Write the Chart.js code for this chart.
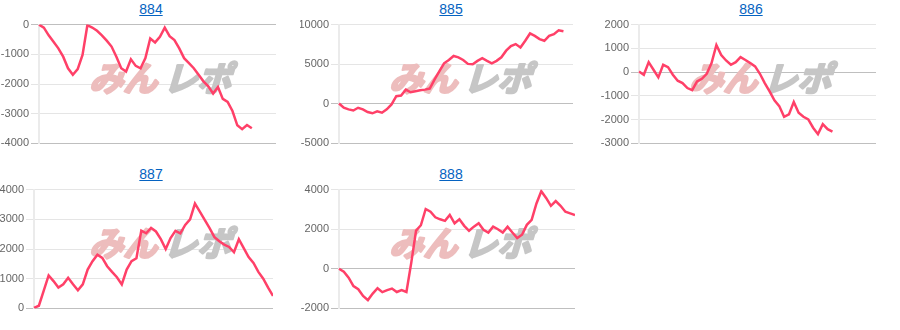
<!DOCTYPE html>
<html lang="ja">
<head>
    <meta charset="UTF-8">
    <title>グラフ</title>
    <style>
        body {
            margin: 0;
            background: #fff;
            font-family: Arial, "Liberation Sans", sans-serif;
        }
        .cell {
            position: absolute;
            width: 300px;
            height: 165px;
        }
        .cell a {
            position: absolute;
            left: 0;
            top: 1px;
            width: 302px;
            text-align: center;
            font-size: 14px;
            color: #0563c1;
            text-decoration: underline;
        }
        .cell canvas {
            position: absolute;
            left: 0;
            top: 16px;
        }
    </style>
</head>
<body>
    <div class="cell" style="left:0;top:0"><a href="#">884</a><canvas id="c884" width="276" height="136"></canvas></div>
    <div class="cell" style="left:300px;top:0"><a href="#">885</a><canvas id="c885" width="273" height="136"></canvas></div>
    <div class="cell" style="left:600px;top:0"><a href="#">886</a><canvas id="c886" width="276" height="136"></canvas></div>
    <div class="cell" style="left:0;top:165px"><a href="#">887</a><canvas id="c887" width="273" height="136"></canvas></div>
    <div class="cell" style="left:300px;top:165px"><a href="#">888</a><canvas id="c888" width="275" height="136"></canvas></div>

    <script src="https://cdn.jsdelivr.net/npm/chart.js"></script>
    <script>
        // x positions (hidden axis), same for every machine
        const xLabels = Array.from({ length: 50 }, (_, i) => i + 1);

        // running difference per machine
        const data884 = [0, -100, -360, -580, -800, -1080, -1470, -1690, -1500, -1020,
            -20, -100, -210, -360, -540, -740, -1080, -1470, -1580, -1170,
            -1390, -1470, -1130, -470, -600, -410, -100, -390, -520, -800,
            -1130, -1300, -1470, -1690, -1910, -2080, -2320, -2100, -2500, -2600,
            -2910, -3390, -3520, -3380, -3490];
        const data885 = [40, -500, -700, -850, -500, -700, -1040, -1200, -950, -1120,
            -700, -80, 960, 1040, 1790, 1460, 1580, 1710, 1790, 1920,
            3040, 4080, 5120, 5540, 6040, 5870, 5540, 5040, 5000, 5420,
            5750, 5420, 5120, 5420, 5870, 6710, 7290, 7540, 7120, 7960,
            8880, 8580, 8170, 7960, 8580, 8790, 9290, 9170];
        const data886 = [30, -110, 420, 100, -220, 310, 210, -110, -360, -460,
            -670, -760, -390, -280, -70, 380, 1140, 720, 490, 310,
            420, 630, 510, 380, 240, -70, -460, -810, -1190, -1430,
            -1880, -1780, -1260, -1710, -1880, -1990, -2340, -2610, -2190, -2400,
            -2500];
        const data887 = [20, 90, 600, 1110, 920, 700, 810, 1030, 810, 610,
            810, 1310, 1590, 1810, 1700, 1420, 1230, 1050, 810, 1310,
            1590, 1690, 2620, 2530, 2710, 2590, 2330, 2000, 2370, 2610,
            2530, 2810, 3000, 3530, 3260, 2980, 2700, 2400, 2260, 2150,
            2070, 1890, 2330, 2030, 1730, 1530, 1230, 1000, 700, 420];
        const data888 = [0, -150, -450, -870, -1030, -1370, -1580, -1250, -980, -1180,
            -1080, -1000, -1170, -1070, -1170, 300, 1930, 2200, 3020, 2880,
            2600, 2500, 2420, 2720, 2300, 2500, 2170, 1920, 2130, 2300,
            1970, 1830, 2130, 2000, 1830, 2130, 1830, 1550, 1720, 2220,
            2470, 3300, 3920, 3580, 3180, 3420, 3180, 2880, 2800, 2720];

        // y axis ranges: [min, max, step]
        const range884 = [-4000, 0, 1000];
        const range885 = [-5000, 10000, 5000];
        const range886 = [-3000, 2000, 1000];
        const range887 = [0, 4000, 1000];
        const range888 = [-2000, 4000, 2000];

        // faint site logo behind the line
        const watermark = {
            id: 'watermark',
            beforeDatasetsDraw(chart) {
                const ctx = chart.ctx;
                const cy = chart.chartArea.top + 53;
                ctx.save();
                ctx.translate(165, cy);
                ctx.transform(1, 0, -0.3, 1, 0, 0);
                ctx.font = 'bold 34px "Noto Sans CJK JP"';
                ctx.textBaseline = 'middle';
                ctx.textAlign = 'left';
                ctx.lineWidth = 2.5;
                ctx.lineJoin = 'round';
                ctx.fillStyle = ctx.strokeStyle = '#edbdbd';
                ctx.strokeText('みん', -72, 0);
                ctx.fillText('みん', -72, 0);
                ctx.fillStyle = ctx.strokeStyle = '#c6c6c6';
                ctx.strokeText('レポ', 2, 0);
                ctx.fillText('レポ', 2, 0);
                ctx.restore();
            }
        };

        function makeChart(id, values, range, axisWidth) {
            return new Chart(document.getElementById(id), {
                type: 'line',
                data: {
                    labels: xLabels,
                    datasets: [{
                        data: values,
                        borderColor: '#ff4068',
                        borderWidth: 2.5,
                        pointRadius: 0,
                        tension: 0,
                        fill: false
                    }]
                },
                options: {
                    responsive: false,
                    animation: false,
                    layout: { padding: { top: 8, bottom: 8, left: 0, right: 0 } },
                    plugins: {
                        legend: { display: false },
                        tooltip: { enabled: false }
                    },
                    scales: {
                        x: { display: false },
                        y: {
                            min: range[0],
                            max: range[1],
                            ticks: {
                                stepSize: range[2],
                                color: '#666',
                                padding: 2,
                                font: { size: 11, family: 'Arial, "Liberation Sans", sans-serif' },
                                callback: v => String(v)
                            },
                            grid: {
                                tickLength: 8,
                                color: c => (c.tick && (c.tick.value === 0 || c.index === 0))
                                    ? 'rgba(0,0,0,0.25)' : 'rgba(0,0,0,0.1)'
                            },
                            border: { color: 'rgba(0,0,0,0.08)', width: 2 },
                            afterFit(axis) { axis.width = axisWidth; }
                        }
                    }
                },
                plugins: [watermark]
            });
        }

        makeChart('c884', data884, range884, 39);
        makeChart('c885', data885, range885, 39);
        makeChart('c886', data886, range886, 39);
        makeChart('c887', data887, range887, 34);
        makeChart('c888', data888, range888, 39);
    </script>
</body>
</html>
